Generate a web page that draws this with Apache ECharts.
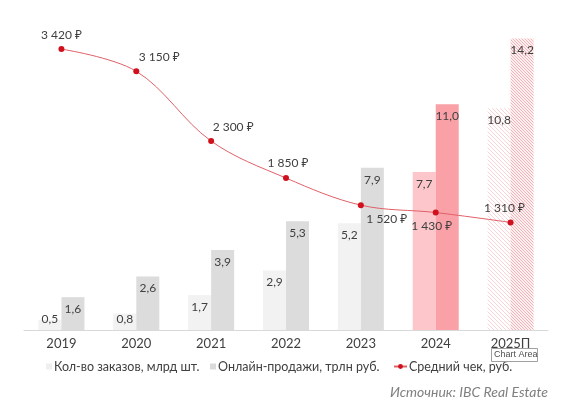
<!DOCTYPE html>
<html>
<head>
<meta charset="utf-8">
<script src="https://cdn.jsdelivr.net/npm/echarts@6/dist/echarts.min.js"></script>
<style>
html,body{margin:0;padding:0;background:#fff;}
#c{width:572px;height:412px;}
</style>
</head>
<body>
<div id="c"></div>
<script>
const categories = ['2019','2020','2021','2022','2023','2024','2025П'];
const orders = [0.5, 0.8, 1.7, 2.9, 5.2, 7.7, 10.8];
const onlineSales = [1.6, 2.6, 3.9, 5.3, 7.9, 11.0, 14.2];
const avgCheck = [3420, 3150, 2300, 1850, 1520, 1430, 1310];
const seriesNames = ['Кол-во заказов, млрд шт.', 'Онлайн-продажи, трлн руб.', 'Средний чек, руб.'];
const sourceText = 'Источник: IBC Real Estate';

function hatch(lineColor, bg, step) {
  const c = document.createElement('canvas');
  c.width = step; c.height = step;
  const g = c.getContext('2d');
  g.fillStyle = bg; g.fillRect(0, 0, step, step);
  g.strokeStyle = lineColor; g.lineWidth = 1;
  g.beginPath();
  for (let k = -step; k <= step * 2; k += step) {
    g.moveTo(k, 0); g.lineTo(k + step, step);
  }
  g.stroke();
  return { image: c, repeat: 'repeat' };
}

const fontFam = 'Lato, "Noto Sans", sans-serif';
const txt = '#404040';
const fmtDec = v => v.toFixed(1).replace('.', ',');
const fmtRub = v => String(v).replace(/\B(?=(\d{3})+(?!\d))/g, ' ') + ' ₽';

const colors1 = ['#f2f2f2','#f2f2f2','#f2f2f2','#f2f2f2','#f2f2f2','#fcc6ca', hatch('#fad3d6', '#fff', 4)];
const colors2 = ['#dcdcdd','#dcdcdd','#dcdcdd','#dcdcdd','#dcdcdd','#f9a1a7', hatch('#f5b3b8', '#fdf0f1', 3)];

function barData(vals, cols) {
  return vals.map((v, i) => {
    const item = { value: v, itemStyle: { color: cols[i] } };
    if (v < 1) item.label = { position: 'insideBottom', distance: 5 };
    return item;
  });
}

const lineLabelOffsets = [[0,-14],[23,-14],[22,-14],[2,-15],[26,14],[-4,14],[-6,-14]];
const lineData = avgCheck.map((v, i) => ({
  value: v,
  label: { offset: lineLabelOffsets[i] }
}));

const legendText = { color: txt, fontSize: 12.5, fontFamily: fontFam, padding: [0,0,0,-3] };

const chart = echarts.init(document.getElementById('c'));
chart.setOption({
  animation: false,
  textStyle: { fontFamily: fontFam },
  grid: { left: 24, right: 24, top: 22, bottom: 82 },
  xAxis: {
    type: 'category',
    data: categories,
    axisLine: { lineStyle: { color: '#d9d9d9', width: 1 } },
    axisTick: { show: false },
    axisLabel: { color: txt, fontSize: 13, margin: 7, fontFamily: fontFam }
  },
  yAxis: [
    { type: 'value', min: 0, max: 15, show: false, splitLine: { show: false } },
    { type: 'value', min: 0, max: 3750, show: false, splitLine: { show: false } }
  ],
  legend: [
    {
      left: 41, top: 355, itemWidth: 6, itemHeight: 6, icon: 'rect',
      textStyle: legendText,
      data: [{ name: seriesNames[0], itemStyle: { color: '#efefef' } }]
    },
    {
      left: 205, top: 355, itemWidth: 6, itemHeight: 6, icon: 'rect',
      textStyle: legendText,
      data: [{ name: seriesNames[1], itemStyle: { color: '#dadada' } }]
    },
    {
      left: 388, top: 355, itemWidth: 13, itemHeight: 6,
      textStyle: legendText,
      data: [{ name: seriesNames[2] }]
    }
  ],
  series: [
    {
      name: seriesNames[0], type: 'bar', yAxisIndex: 0,
      barWidth: 23, barGap: '0%',
      itemStyle: { color: '#efefef' },
      label: { show: true, position: 'insideTop', distance: 6, color: txt, fontSize: 12, fontFamily: fontFam, formatter: p => fmtDec(p.value) },
      data: barData(orders, colors1)
    },
    {
      name: seriesNames[1], type: 'bar', yAxisIndex: 0,
      barWidth: 23, barGap: '0%',
      itemStyle: { color: '#dadada' },
      label: { show: true, position: 'insideTop', distance: 6, color: txt, fontSize: 12, fontFamily: fontFam, formatter: p => fmtDec(p.value) },
      data: barData(onlineSales, colors2)
    },
    {
      name: seriesNames[2], type: 'line', yAxisIndex: 1,
      smooth: 0.35,
      symbol: 'circle', symbolSize: 6,
      itemStyle: { color: '#d0101c' },
      lineStyle: { color: '#e06068', width: 1 },
      label: { show: true, position: 'inside', color: txt, fontSize: 12, fontFamily: fontFam, formatter: p => fmtRub(p.value) },
      data: lineData,
      z: 5
    }
  ],
  graphic: [
    {
      type: 'text', right: 24, top: 385,
      style: { text: sourceText, fill: '#808080', font: 'italic 14px ' + fontFam }
    },
    {
      type: 'rect', left: 491, top: 348, shape: { width: 46, height: 13 },
      style: { fill: '#ffffff', stroke: '#a0a0a0', lineWidth: 1 }, z: 100
    },
    {
      type: 'text', left: 494, top: 350,
      style: { text: 'Chart Area', fill: '#505050', font: '9px "Liberation Sans", sans-serif' }, z: 101
    }
  ]
});
</script>
</body>
</html>
